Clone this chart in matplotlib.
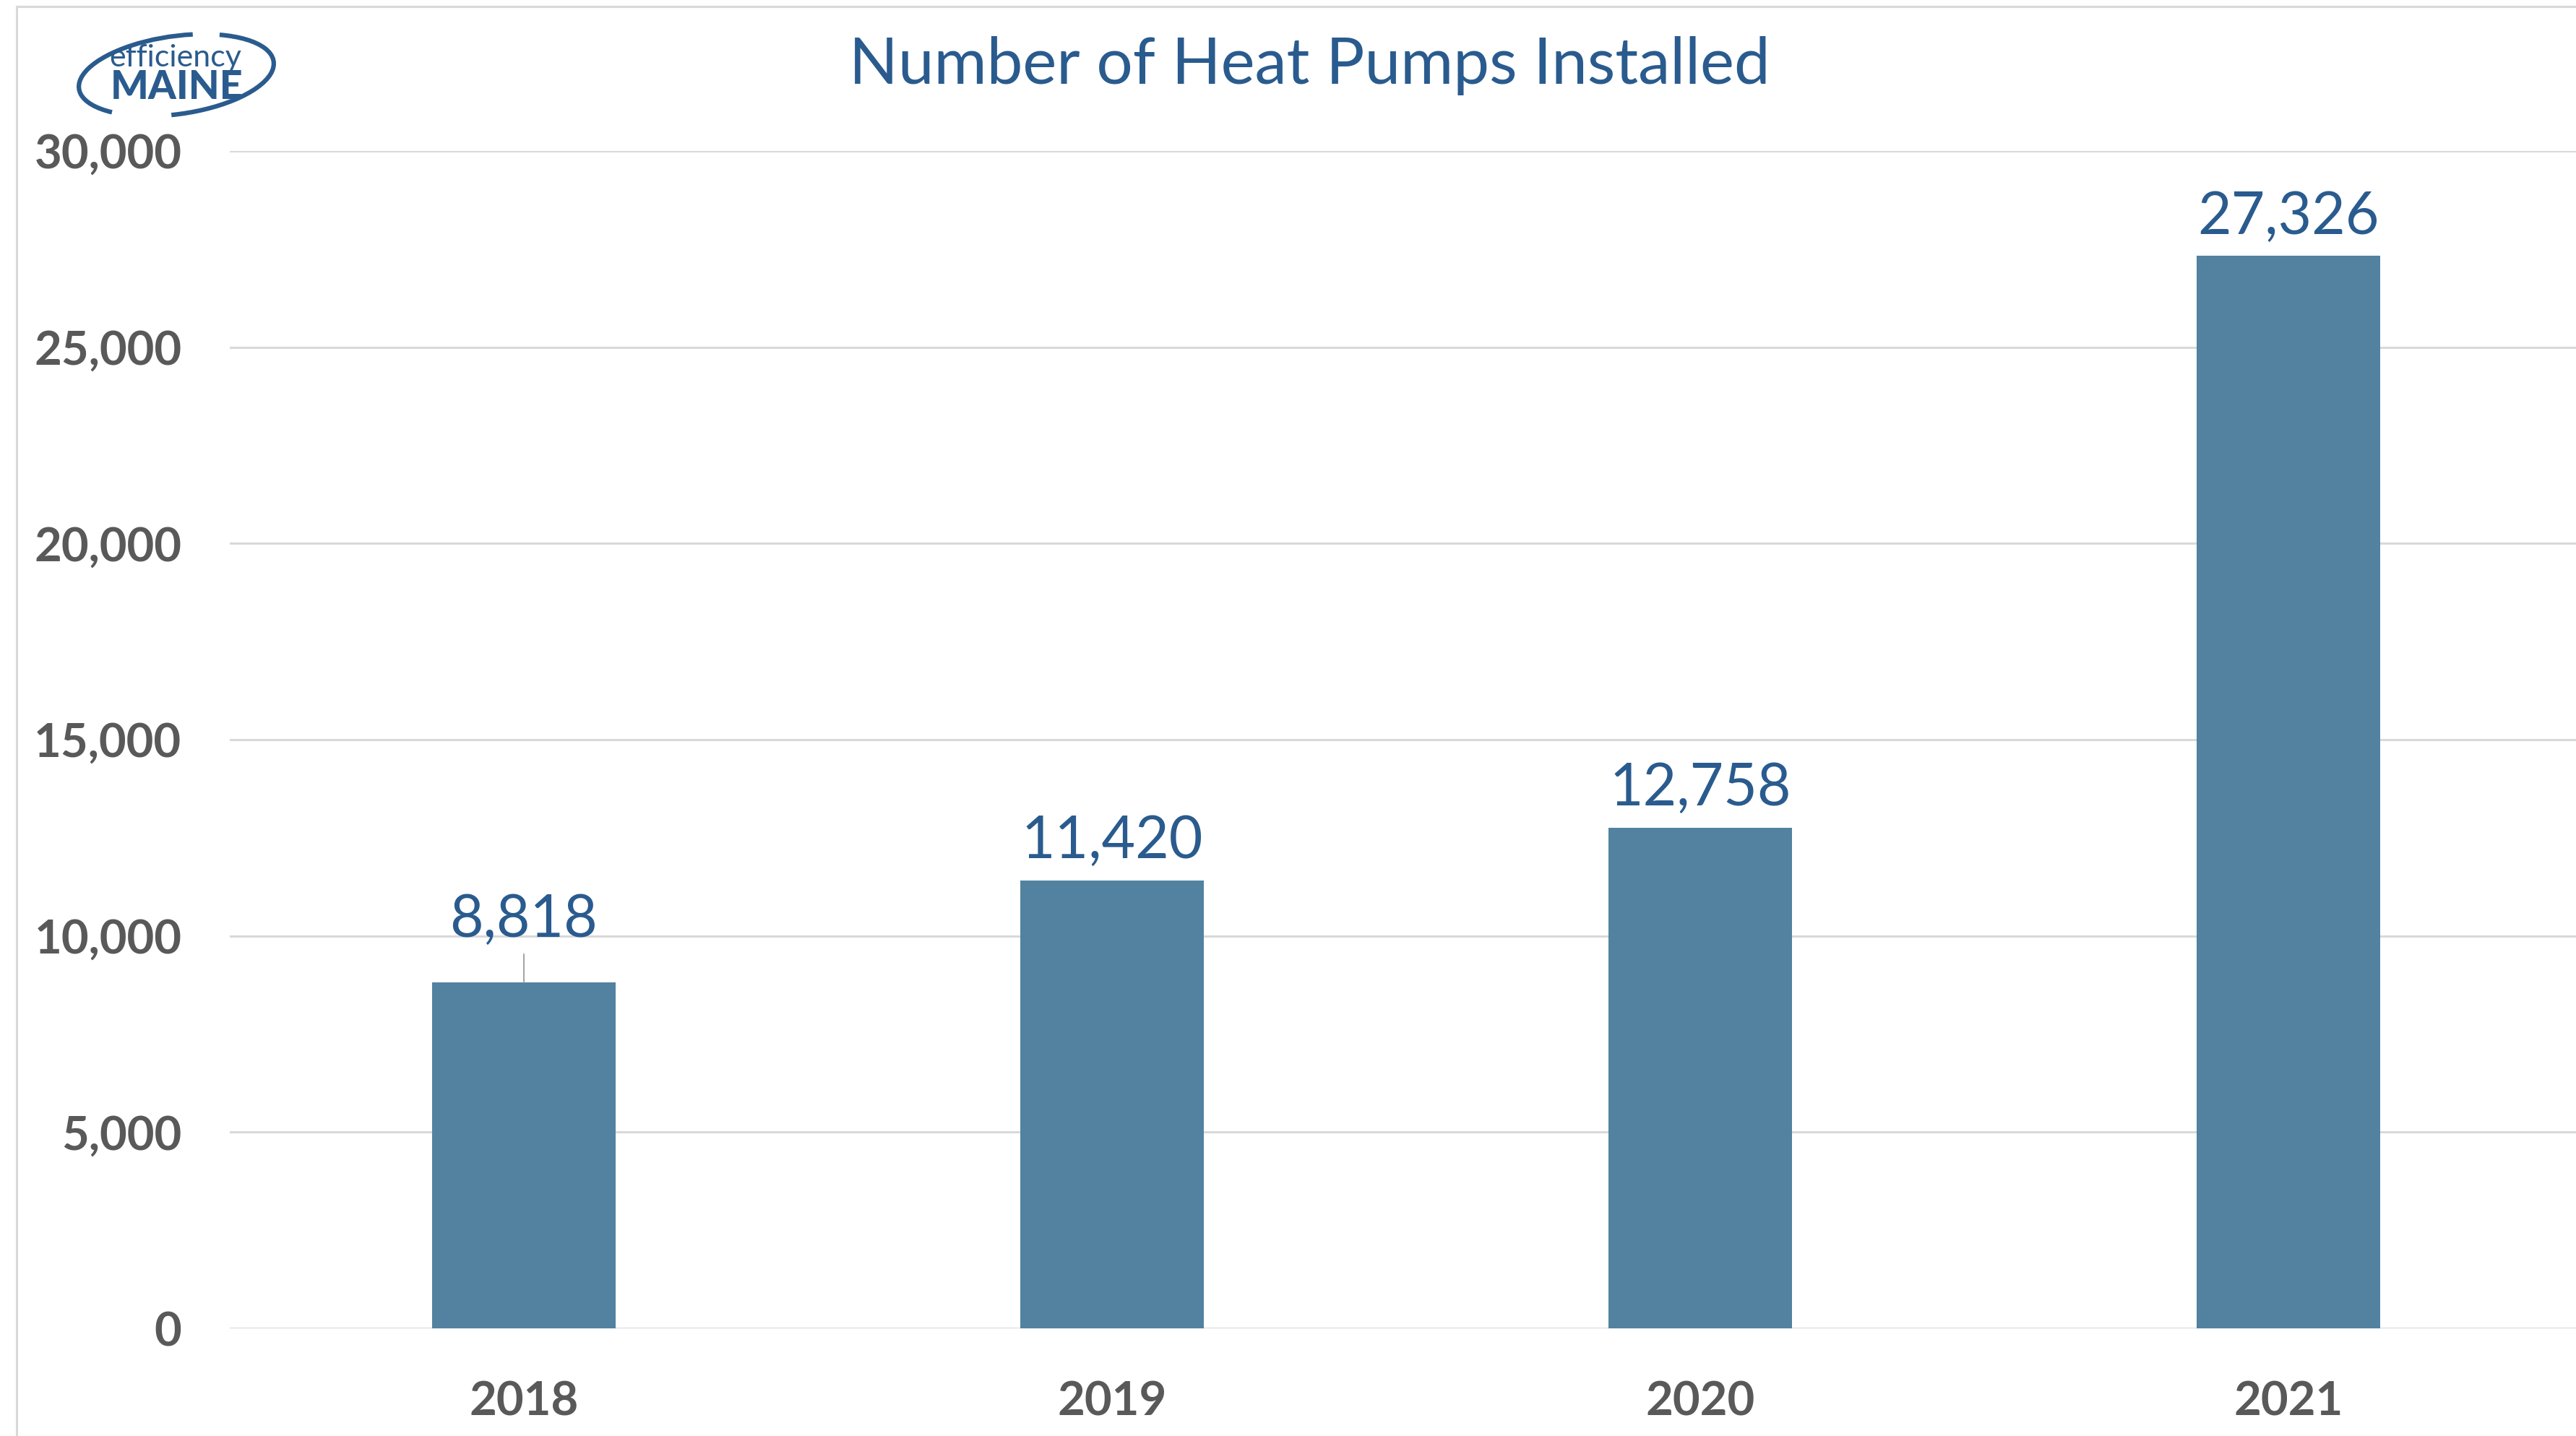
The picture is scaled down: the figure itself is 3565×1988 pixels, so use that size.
import matplotlib
matplotlib.use("Agg")
import matplotlib.pyplot as plt
from matplotlib.patches import Arc
from matplotlib.ticker import FuncFormatter

# ---- data ----
years = ["2018", "2019", "2020", "2021"]
installed = [8818, 11420, 12758, 27326]
y_ticks = [0, 5000, 10000, 15000, 20000, 25000, 30000]
title = "Number of Heat Pumps Installed"

BAR = "#5282A0"
BLUE = "#2A5B8E"
GRAY = "#595959"
GRID = "#D9D9D9"
FONT = "Lato"

W, H = 3565, 1988
fig = plt.figure(figsize=(W / 100, H / 100), dpi=100)
fig.patch.set_facecolor("white")

# chart border (top and left visible)
fig.add_artist(plt.Line2D([23 / W, 23 / W], [0, 1 - 9 / H], color=GRID, lw=2.2))
fig.add_artist(plt.Line2D([23 / W, 1], [1 - 9 / H, 1 - 9 / H], color=GRID, lw=2.2))

left, right = 318 / W, 3574 / W
bottom, top = 1 - 1839 / H, 1 - 209 / H
ax = fig.add_axes([left, bottom, right - left, top - bottom])

x = list(range(len(years)))
ax.bar(x, installed, width=0.313, color=BAR, zorder=3)
ax.set_xlim(-0.5, len(years) - 0.5)
ax.set_ylim(0, 30000)
ax.set_yticks(y_ticks)
ax.yaxis.set_major_formatter(FuncFormatter(lambda v, p: f"{int(v):,}"))
ax.set_xticks(x)
ax.set_xticklabels(years)
ax.grid(axis="y", color=GRID, lw=2.2, zorder=0)
for s in ax.spines.values():
    s.set_visible(False)
ax.tick_params(axis="both", length=0, colors=GRAY)
ax.tick_params(axis="y", pad=48)
ax.tick_params(axis="x", pad=52)
for lab in ax.get_yticklabels() + ax.get_xticklabels():
    lab.set_fontfamily(FONT)
    lab.set_fontweight("bold")
    lab.set_fontsize(47)
    lab.set_color(GRAY)

# data labels
for i, v in enumerate(installed):
    if i == 0:
        ax.annotate("", xy=(i, v), xytext=(0, 28), textcoords="offset points",
                    arrowprops=dict(arrowstyle="-", color="#A6A6A6", lw=1.5,
                                    shrinkA=0, shrinkB=0), zorder=4)
        off = 45
    else:
        off = 22
    ax.annotate(f"{v:,}", xy=(i, v), xytext=(0, off), textcoords="offset points",
                ha="center", va="baseline", fontsize=58, color=BLUE,
                fontfamily=FONT)

# title
fig.text(1812 / W, 1 - 91 / H, title, ha="center", va="center",
         fontsize=64, color=BLUE, fontfamily=FONT)

# logo
fig.text(243 / W, 1 - 80 / H, "efficiency", ha="center", va="center",
         fontsize=31, color=BLUE, fontfamily=FONT)
fig.text(245 / W, 1 - 121 / H, "MAINE", ha="center", va="center",
         fontsize=40, color=BLUE, fontfamily=FONT, fontweight="black")
lax = fig.add_axes([0, 0, 1, 1], facecolor="none")
lax.set_xlim(0, W)
lax.set_ylim(H, 0)
lax.axis("off")
lax.add_patch(Arc((244, 104), 272, 108, angle=-8, theta1=158, theta2=300,
                  color=BLUE, lw=4.5))
lax.add_patch(Arc((244, 104), 272, 108, angle=-8, theta1=-35, theta2=105,
                  color=BLUE, lw=4.5))

fig.savefig("out.png", dpi=100, facecolor="white")
